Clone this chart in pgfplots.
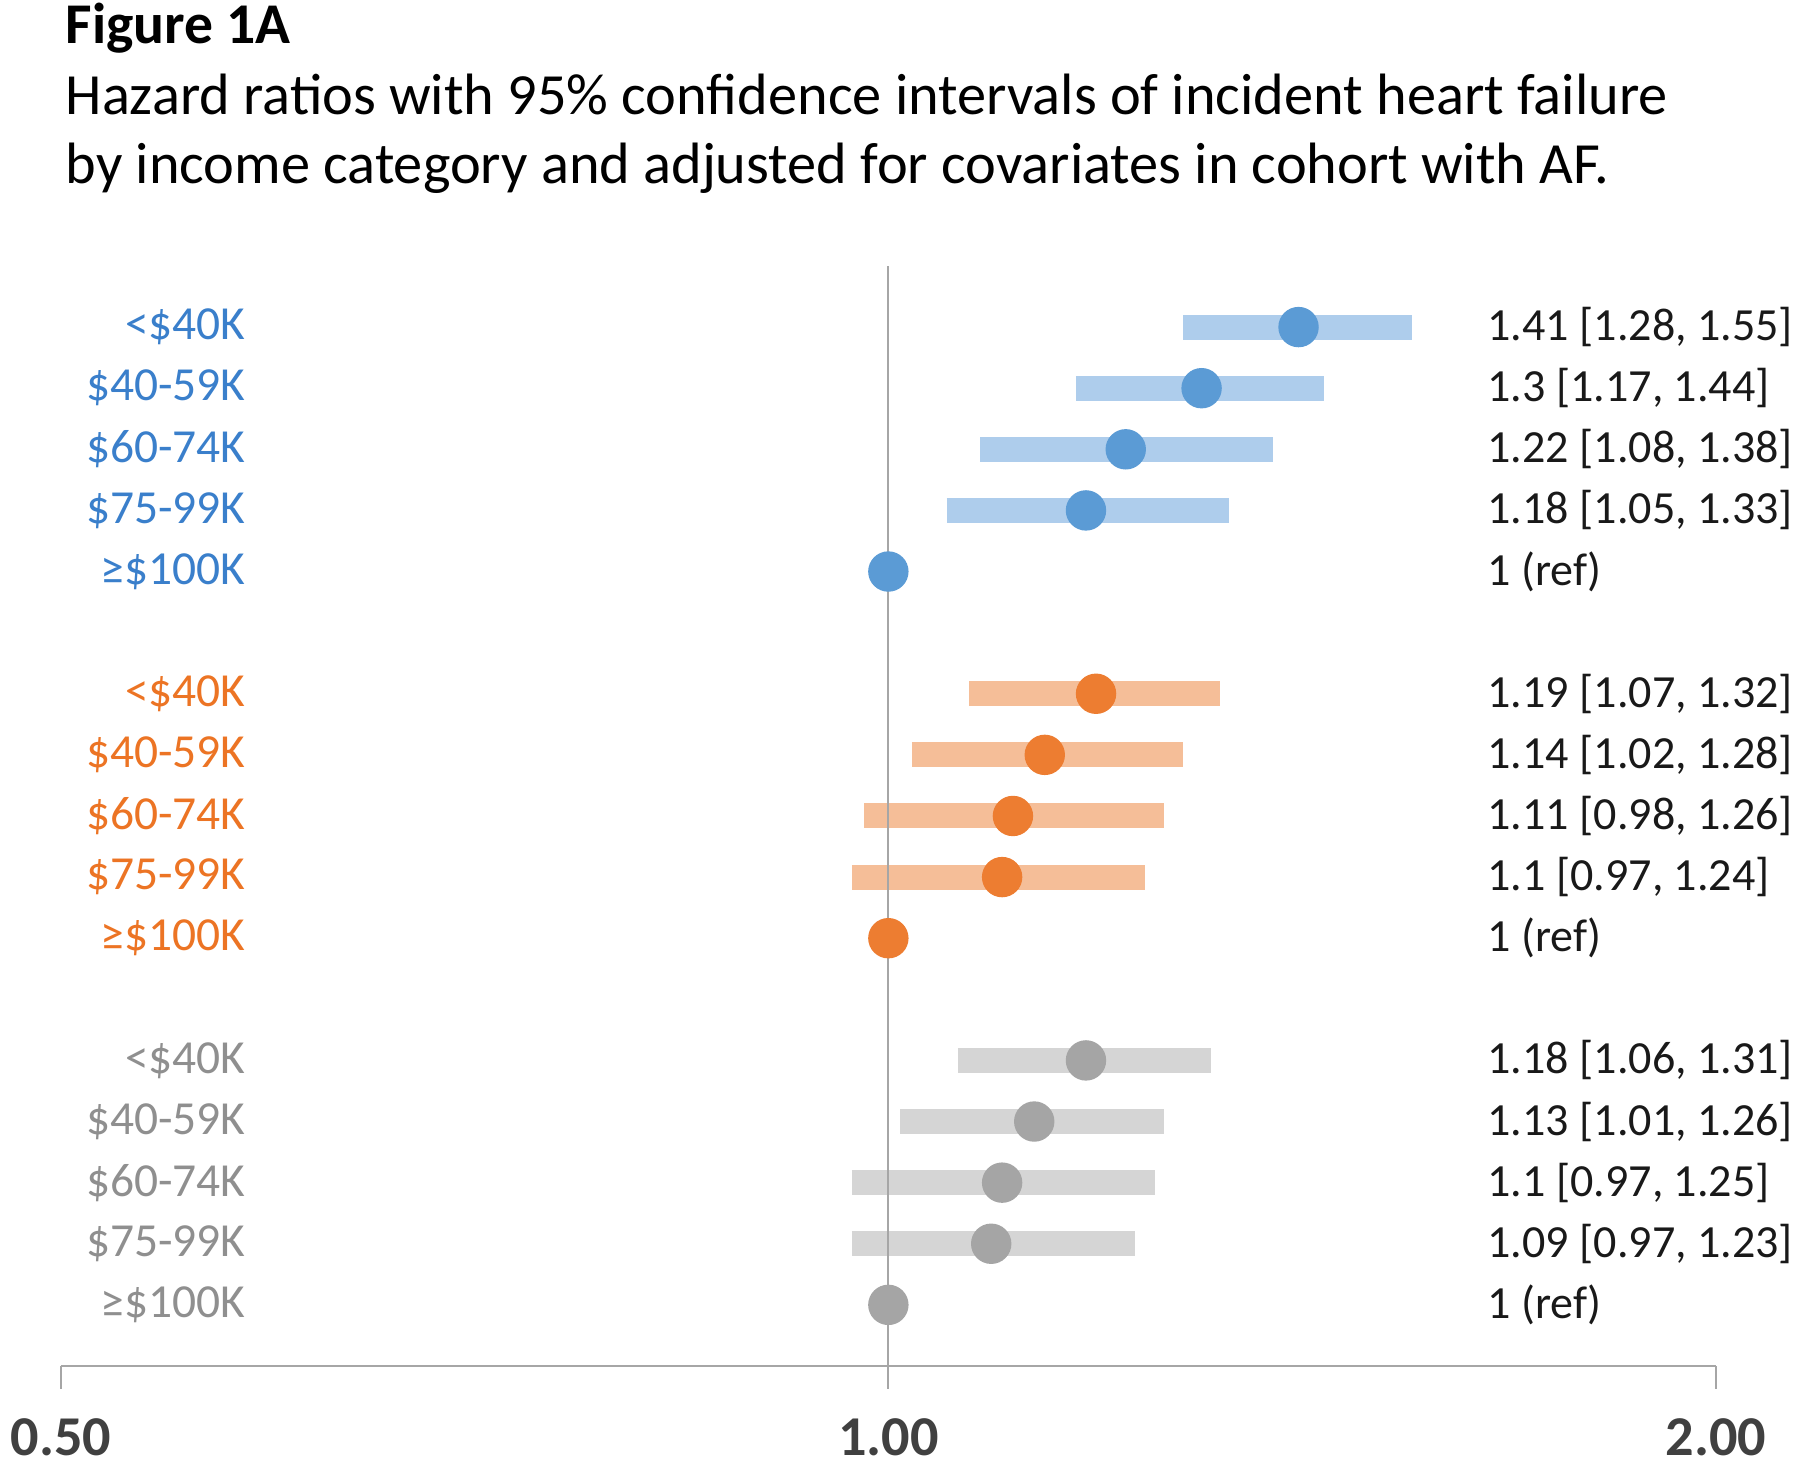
\documentclass[border=0pt]{standalone}
\usepackage{fontspec}
\setmainfont{Carlito}
\usepackage{pgfplots}
\usepackage{pgfplotstable}
\pgfplotsset{compat=1.18}

\definecolor{bluedot}{HTML}{5B9BD5}
\definecolor{bluebar}{HTML}{AECDEC}
\definecolor{bluetxt}{HTML}{3A7FCB}
\definecolor{orgdot}{HTML}{ED7D31}
\definecolor{orgbar}{HTML}{F5BE98}
\definecolor{orgtxt}{HTML}{EC7424}
\definecolor{grydot}{HTML}{A5A5A5}
\definecolor{grybar}{HTML}{D5D5D5}
\definecolor{grytxt}{HTML}{8F8F8F}
\definecolor{axgray}{HTML}{A6A6A6}
\definecolor{ticktxt}{HTML}{404040}

% y = row position, hr with 95% CI
\pgfplotstableread{
y  hr   lo   hi
16 1.41 1.28 1.55
15 1.30 1.17 1.44
14 1.22 1.08 1.38
13 1.18 1.05 1.33
12 1.00 1.00 1.00
}\bluetab
\pgfplotstableread{
y  hr   lo   hi
10 1.19 1.07 1.32
9  1.14 1.02 1.28
8  1.11 0.98 1.26
7  1.10 0.97 1.24
6  1.00 1.00 1.00
}\orgtab
\pgfplotstableread{
y  hr   lo   hi
4  1.18 1.06 1.31
3  1.13 1.01 1.26
2  1.10 0.97 1.25
1  1.09 0.97 1.23
0  1.00 1.00 1.00
}\grytab

\begin{document}
\begin{tikzpicture}
\path[use as bounding box] (0,0) rectangle (18cm,14.7cm);

\node[anchor=base west, inner sep=0, font=\fontsize{16.4}{20}\selectfont\bfseries] at (0.65cm,14.26cm) {Figure 1A};
\node[anchor=base west, inner sep=0, font=\fontsize{16.6}{20}\selectfont] at (0.65cm,13.55cm)
  {Hazard ratios with 95\% confidence intervals of incident heart failure};
\node[anchor=base west, inner sep=0, font=\fontsize{16.6}{20}\selectfont] at (0.65cm,12.86cm)
  {by income category and adjusted for covariates in cohort with AF.};

\begin{axis}[
  at={(0.608cm,1.04cm)}, anchor=south west,
  scale only axis, width=16.55cm, height=11cm,
  xmode=log, log basis x=2,
  xmin=0.5, xmax=2, ymin=-1, ymax=17,
  axis x line*=bottom, axis y line=none,
  axis line style={axgray, line width=0.8pt},
  xtick={0.5,1,2}, xticklabels={0.50,1.00,2.00},
  minor xtick={},
  tick align=outside, major tick length=2.3mm,
  xtick style={axgray, line width=0.5pt},
  xticklabel style={font=\fontsize{16}{18}\selectfont\bfseries, text=ticktxt, anchor=north, inner sep=0pt, yshift=-2.9mm},
  clip=false,
  bar/.style={line width=2.5mm, no marks},
  dot/.style={only marks, mark=*, mark size=1.95mm},
]
% CI bars
\addplot[bar, bluebar] coordinates {(1.28,16) (1.55,16)};
\addplot[bar, bluebar] coordinates {(1.17,15) (1.44,15)};
\addplot[bar, bluebar] coordinates {(1.08,14) (1.38,14)};
\addplot[bar, bluebar] coordinates {(1.05,13) (1.33,13)};
\addplot[bar, orgbar] coordinates {(1.07,10) (1.32,10)};
\addplot[bar, orgbar] coordinates {(1.02,9) (1.28,9)};
\addplot[bar, orgbar] coordinates {(0.98,8) (1.26,8)};
\addplot[bar, orgbar] coordinates {(0.97,7) (1.24,7)};
\addplot[bar, grybar] coordinates {(1.06,4) (1.31,4)};
\addplot[bar, grybar] coordinates {(1.01,3) (1.26,3)};
\addplot[bar, grybar] coordinates {(0.97,2) (1.25,2)};
\addplot[bar, grybar] coordinates {(0.97,1) (1.23,1)};
% reference line at HR = 1
\addplot[axgray, line width=0.6pt, no marks] coordinates {(1,-1) (1,17)};
% point estimates
\addplot[dot, bluedot] table[x=hr, y=y] {\bluetab};
\addplot[dot, orgdot] table[x=hr, y=y] {\orgtab};
\addplot[dot, grydot] table[x=hr, y=y] {\grytab};

% row labels
\begin{scope}[every node/.style={anchor=east, inner sep=0pt, font=\fontsize{13.5}{16}\selectfont}]
\node[text=bluetxt] at (axis cs:0.584,16) {<\$40K};
\node[text=bluetxt] at (axis cs:0.584,15) {\$40-59K};
\node[text=bluetxt] at (axis cs:0.584,14) {\$60-74K};
\node[text=bluetxt] at (axis cs:0.584,13) {\$75-99K};
\node[text=bluetxt] at (axis cs:0.584,12) {≥\$100K};
\node[text=orgtxt] at (axis cs:0.584,10) {<\$40K};
\node[text=orgtxt] at (axis cs:0.584,9) {\$40-59K};
\node[text=orgtxt] at (axis cs:0.584,8) {\$60-74K};
\node[text=orgtxt] at (axis cs:0.584,7) {\$75-99K};
\node[text=orgtxt] at (axis cs:0.584,6) {≥\$100K};
\node[text=grytxt] at (axis cs:0.584,4) {<\$40K};
\node[text=grytxt] at (axis cs:0.584,3) {\$40-59K};
\node[text=grytxt] at (axis cs:0.584,2) {\$60-74K};
\node[text=grytxt] at (axis cs:0.584,1) {\$75-99K};
\node[text=grytxt] at (axis cs:0.584,0) {≥\$100K};
\end{scope}

% estimate text
\begin{scope}[every node/.style={anchor=west, inner sep=0pt, text=black!90, font=\fontsize{13.1}{16}\selectfont}]
\node at (axis cs:1.651,16) {1.41 [1.28, 1.55]};
\node at (axis cs:1.651,15) {1.3 [1.17, 1.44]};
\node at (axis cs:1.651,14) {1.22 [1.08, 1.38]};
\node at (axis cs:1.651,13) {1.18 [1.05, 1.33]};
\node at (axis cs:1.651,12) {1 (ref)};
\node at (axis cs:1.651,10) {1.19 [1.07, 1.32]};
\node at (axis cs:1.651,9) {1.14 [1.02, 1.28]};
\node at (axis cs:1.651,8) {1.11 [0.98, 1.26]};
\node at (axis cs:1.651,7) {1.1 [0.97, 1.24]};
\node at (axis cs:1.651,6) {1 (ref)};
\node at (axis cs:1.651,4) {1.18 [1.06, 1.31]};
\node at (axis cs:1.651,3) {1.13 [1.01, 1.26]};
\node at (axis cs:1.651,2) {1.1 [0.97, 1.25]};
\node at (axis cs:1.651,1) {1.09 [0.97, 1.23]};
\node at (axis cs:1.651,0) {1 (ref)};
\end{scope}
\end{axis}
\end{tikzpicture}
\end{document}
